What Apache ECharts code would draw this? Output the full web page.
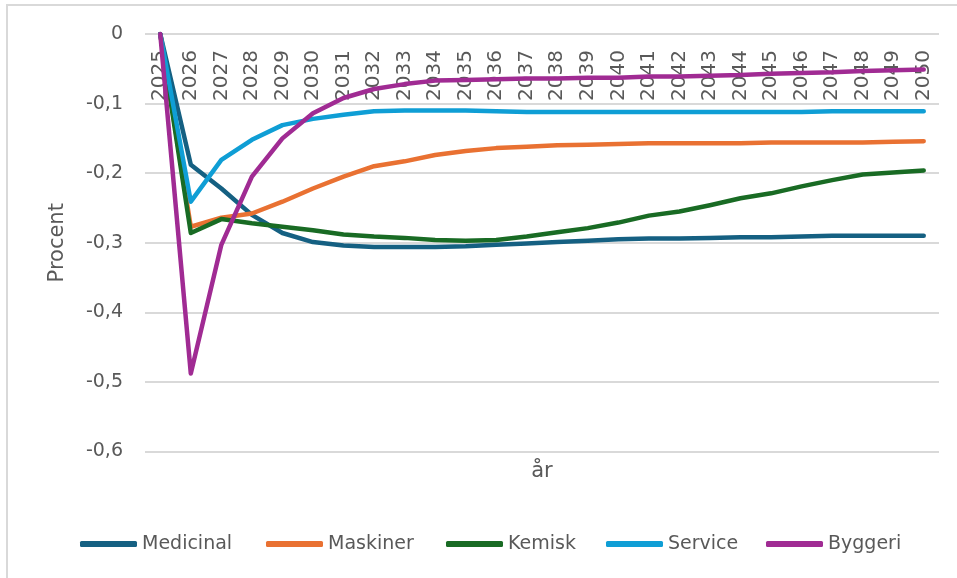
<!DOCTYPE html>
<html>
<head>
<meta charset="utf-8">
<title>Procent</title>
<script src="https://cdn.jsdelivr.net/npm/echarts@6/dist/echarts.min.js"></script>
<style>
  html, body { margin: 0; padding: 0; background: #ffffff; }
  #chart { width: 957px; height: 578px; }
</style>
</head>
<body>
<div id="chart"></div>
<script>
// Years on the category axis
const years = ['2025','2026','2027','2028','2029','2030','2031','2032','2033','2034','2035','2036','2037',
  '2038','2039','2040','2041','2042','2043','2044','2045','2046','2047','2048','2049','2050'];

// Deviation in percent per sector
const medicinal = [0, -0.188, -0.222, -0.260, -0.286, -0.299, -0.304, -0.306, -0.306, -0.306, -0.305, -0.303, -0.301,
  -0.299, -0.297, -0.295, -0.294, -0.294, -0.293, -0.292, -0.292, -0.291, -0.290, -0.290, -0.290, -0.290];
const maskiner = [0, -0.277, -0.264, -0.258, -0.241, -0.222, -0.205, -0.190, -0.183, -0.174, -0.168, -0.164, -0.162,
  -0.160, -0.159, -0.158, -0.157, -0.157, -0.157, -0.157, -0.156, -0.156, -0.156, -0.156, -0.155, -0.154];
const kemisk = [0, -0.286, -0.266, -0.272, -0.277, -0.282, -0.288, -0.291, -0.293, -0.296, -0.297, -0.296, -0.291,
  -0.285, -0.279, -0.271, -0.261, -0.255, -0.246, -0.236, -0.229, -0.219, -0.210, -0.202, -0.199, -0.196];
const service = [0, -0.241, -0.181, -0.152, -0.131, -0.122, -0.116, -0.111, -0.110, -0.110, -0.110, -0.111, -0.112,
  -0.112, -0.112, -0.112, -0.112, -0.112, -0.112, -0.112, -0.112, -0.112, -0.111, -0.111, -0.111, -0.111];
const byggeri = [0, -0.488, -0.303, -0.205, -0.150, -0.114, -0.092, -0.079, -0.072, -0.067, -0.066, -0.065, -0.064,
  -0.064, -0.063, -0.063, -0.061, -0.061, -0.060, -0.059, -0.057, -0.056, -0.055, -0.053, -0.052, -0.051];

const seriesNames = ['Medicinal', 'Maskiner', 'Kemisk', 'Service', 'Byggeri'];
const seriesData = [medicinal, maskiner, kemisk, service, byggeri];
const colors = ['#156082', '#E97132', '#196B24', '#0F9ED5', '#A02B93'];

const FONT = 'DejaVu Sans';
const TEXT = '#595959';

// One legend block per series so each entry sits at its own spot
const legendLefts = [80, 266, 446, 606, 766];
const legends = seriesNames.map((name, i) => ({
  data: [name],
  left: legendLefts[i],
  top: 534,
  padding: 0,
  icon: 'roundRect',
  itemWidth: 57,
  itemHeight: 6,
  itemGap: 0,
  textStyle: { fontFamily: FONT, fontSize: 19, color: TEXT, lineHeight: 20 }
}));

const chart = echarts.init(document.getElementById('chart'), null, { renderer: 'canvas' });

chart.setOption({
  animation: false,
  backgroundColor: '#ffffff',
  color: colors,
  grid: { left: 145, right: 18, top: 34, bottom: 126.5, containLabel: false },
  legend: legends,
  graphic: [
    {
      type: 'rect',
      shape: { x: 7, y: 5, width: 1000, height: 1000 },
      style: { fill: 'none', stroke: '#d9d9d9', lineWidth: 2 },
      silent: true
    },
    {
      type: 'text',
      x: 542, y: 472,
      style: {
        text: 'år', fontFamily: FONT, fontSize: 21, fill: TEXT,
        textAlign: 'center', textVerticalAlign: 'middle'
      }
    }
  ],
  xAxis: {
    type: 'category',
    data: years,
    position: 'top',
    boundaryGap: true,
    axisLine: { show: false },
    axisTick: { show: false },
    axisLabel: {
      inside: true,
      rotate: 90,
      interval: 0,
      margin: 16,
      fontFamily: FONT,
      fontSize: 20,
      color: TEXT
    },
    splitLine: { show: false }
  },
  yAxis: {
    type: 'value',
    min: -0.6,
    max: 0,
    interval: 0.1,
    name: 'Procent',
    nameLocation: 'middle',
    nameRotate: 90,
    nameGap: 77,
    nameTextStyle: { fontFamily: FONT, fontSize: 21, color: TEXT },
    axisLine: { show: false },
    axisTick: { show: false },
    axisLabel: {
      margin: 22,
      fontFamily: FONT,
      fontSize: 19,
      color: TEXT,
      formatter: v => String(+v.toFixed(1)).replace('.', ',')
    },
    splitLine: { show: true, lineStyle: { color: '#d9d9d9', width: 2 } }
  },
  series: seriesNames.map((name, i) => ({
    name: name,
    type: 'line',
    data: seriesData[i],
    showSymbol: false,
    symbol: 'none',
    smooth: false,
    lineStyle: { width: 4.5, color: colors[i], cap: 'round', join: 'round' },
    itemStyle: { color: colors[i] },
    emphasis: { disabled: true }
  }))
});
</script>
</body>
</html>
